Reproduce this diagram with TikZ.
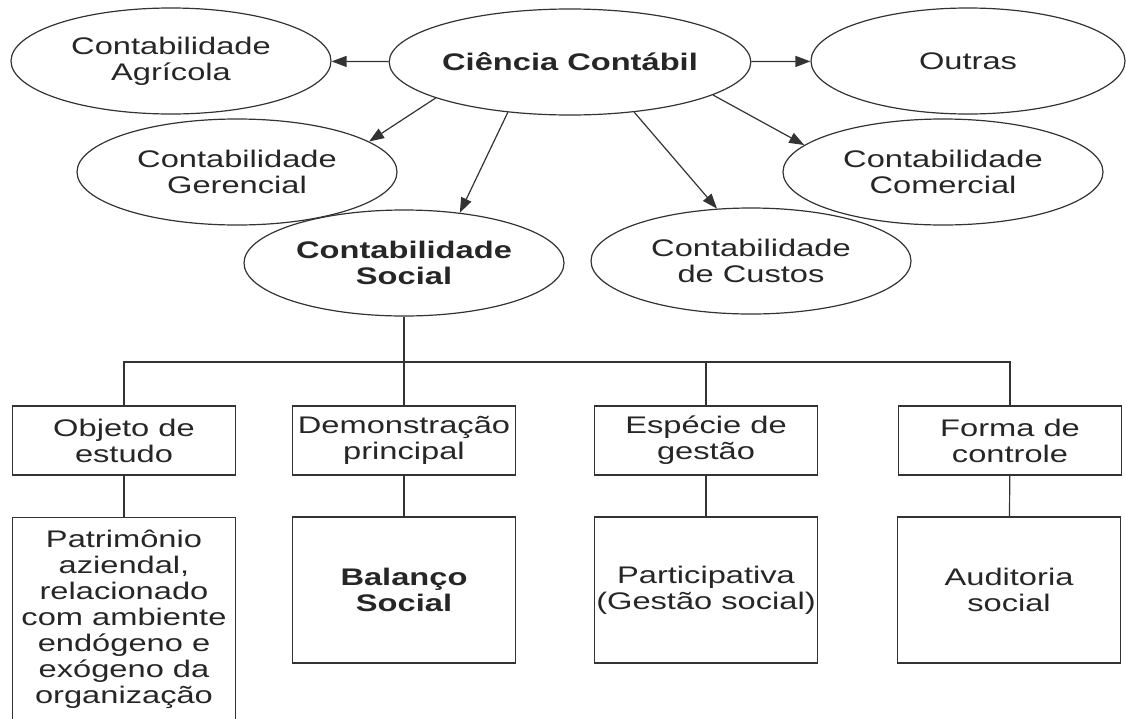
\documentclass[tikz,border=0pt]{standalone}
\usepackage{fontspec}
\setmainfont{Liberation Sans}[FakeStretch=1.36]
\usetikzlibrary{shapes.geometric,arrows.meta}

\begin{document}
\begin{tikzpicture}[x=1pt, y=-1pt,
  every node/.style={font=\fontsize{24}{26}\selectfont, text=black!85, align=center},
  heavy/.style={font=\fontsize{24}{26}\selectfont\bfseries},
  area/.style={ellipse, draw=black!80, line width=1.2pt, inner sep=0pt,
    minimum width=320pt, minimum height=106pt},
  cell/.style={rectangle, draw=black!80, line width=1.2pt, inner sep=0pt,
    minimum width=223pt, minimum height=69pt},
  tall/.style={cell, minimum height=146pt},
  link/.style={draw=black!80, line width=1.2pt, -{Triangle[length=15pt,width=11pt]}},
  wire/.style={draw=black!80, line width=1.2pt}]
  \useasboundingbox (0,0) rectangle (1126,718);
  \clip (0,0) rectangle (1126,718);

  % Areas of the accounting science
  \node[area, heavy] (cc) at (570,62) {Ciência Contábil};
  \node[area] (agr) at (171,61) {Contabilidade\\Agrícola};
  \node[area, minimum width=314pt] (out) at (968,61) {Outras};
  \node[area] (ger) at (237,172) {Contabilidade\\Gerencial};
  \node[area] (com) at (943,172) {Contabilidade\\Comercial};
  \node[area, heavy] (soc) at (404,263) {Contabilidade\\Social};
  \node[area] (cus) at (751,261) {Contabilidade\\de Custos};

  \draw[link] (cc) -- (agr);
  \draw[link] (cc) -- (out);
  \draw[link] (cc.195) -- (ger.13);
  \draw[link] (cc.219) -- (soc.42);
  \draw[link] (cc.322) -- (cus.123);
  \draw[link] (cc.347) -- (com.169);

  % Aspects of social accounting
  \node[cell] (obj) at (124,440.5) {Objeto de\\estudo};
  \node[cell] (dem) at (404,440.5) {Demonstração\\principal};
  \node[cell] (esp) at (706,440.5) {Espécie de\\gestão};
  \node[cell] (ctl) at (1010,440.5) {Forma de\\controle};

  \node[cell, anchor=north, inner ysep=12pt] (pat) at (124,517)
    {Patrimônio\\aziendal,\\relacionado\\com ambiente\\endógeno e\\exógeno da\\organização};
  \node[tall, heavy] (bal) at (404,590) {Balanço\\Social};
  \node[tall] (par) at (706,590) {Participativa\\(Gestão social)};
  \node[tall] (aud) at (1009,590) {Auditoria\\social};

  % Tree connectors
  \coordinate (bus) at (404,362);
  \draw[wire] (soc) -- (bus);
  \draw[wire] (obj) |- (bus) -| (ctl);
  \draw[wire] (dem) -- (dem |- bus);
  \draw[wire] (esp) -- (esp |- bus);

  \draw[wire] (obj) -- (pat);
  \draw[wire] (dem) -- (bal);
  \draw[wire] (esp) -- (par);
  \draw[wire] (ctl) -- (aud);
\end{tikzpicture}
\end{document}
